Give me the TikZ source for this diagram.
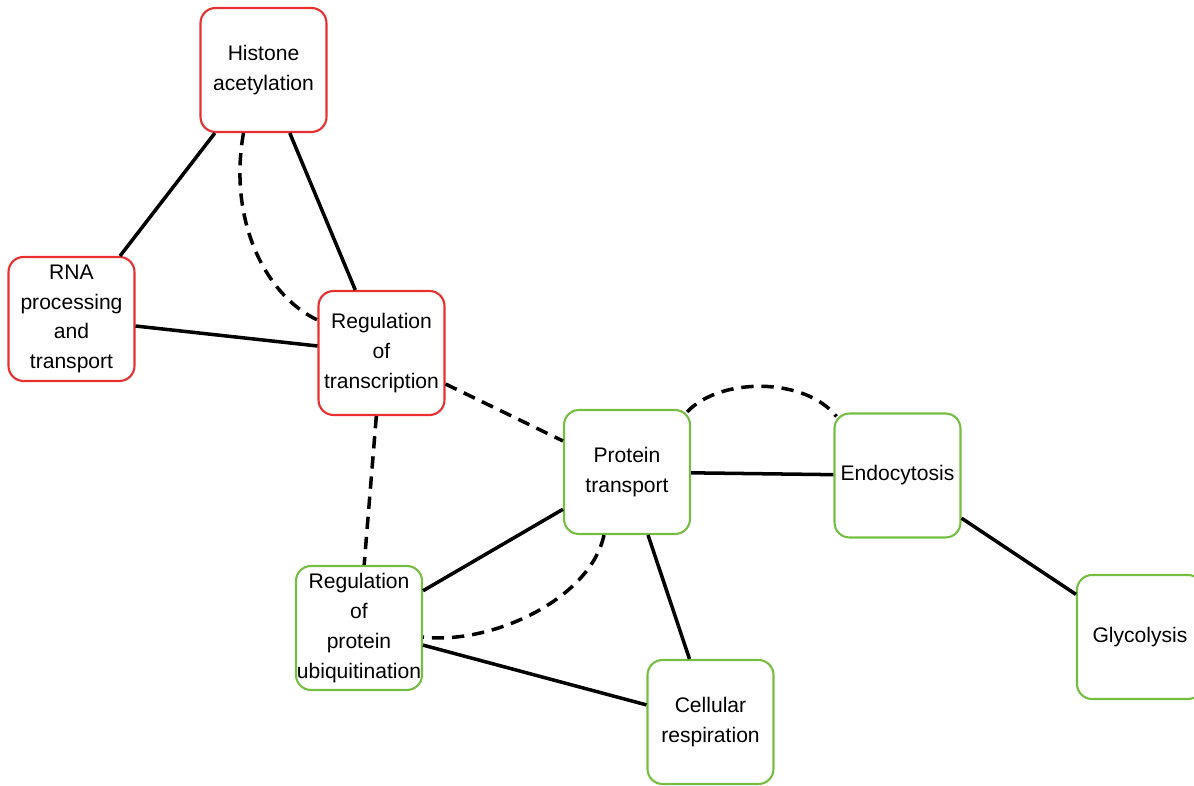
\documentclass[tikz,border=0pt]{standalone}
\usepackage{fontspec}
\setmainfont{Liberation Sans}
\usetikzlibrary{calc}
\definecolor{boxred}{RGB}{232,48,48}
\definecolor{boxgreen}{RGB}{118,190,66}

\begin{document}
\begin{tikzpicture}[x=0.02cm,y=-0.02cm,
  term/.style={draw,rounded corners=0.3cm,line width=1.2pt,minimum width=2.52cm,minimum height=2.48cm,inner sep=0pt,align=center,font=\fontsize{12}{17}\selectfont},
  redterm/.style={term,draw=boxred},
  greenterm/.style={term,draw=boxgreen},
  link/.style={line width=2pt},
  dlink/.style={link,dash pattern=on 7pt off 4.5pt}]
\useasboundingbox (0,0) rectangle (1194,786);
\node [redterm] (hist) at (263.5,70) {Histone\\acetylation};
\node [redterm] (rna) at (71.5,319) {RNA\\processing\\and\\transport};
\node [redterm] (regtr) at (381.5,353) {Regulation\\of\\transcription};
\node [greenterm] (prot) at (627,472) {Protein\\transport};
\node [greenterm] (endo) at (897.5,475.5) {Endocytosis};
\node [greenterm] (glyc) at (1140,637) {Glycolysis};
\node [greenterm] (ubiq) at (359,628) {Regulation\\of\\protein\\ubiquitination};
\node [greenterm] (resp) at (710.5,722) {Cellular\\respiration};
\draw [link] (hist) -- (rna);
\draw [link] (hist) -- (regtr);
\draw [link] (rna) -- (regtr);
\draw [dlink] ($(hist.south)+(-20,0)$) .. controls (228,220) and (265,295) .. ($(regtr.west)+(0,-33)$);
\draw [dlink] (regtr) -- (prot);
\draw [dlink] (regtr) -- (ubiq);
\draw [link] (prot) -- (endo);
\draw [dlink] ($(prot.north east)+(-4,3)$) .. controls (720,377) and (805,377) .. ($(endo.north west)+(3,4)$);
\draw [link] (prot) -- (ubiq);
\draw [dlink] ($(prot.south)+(-23,0)$) .. controls (590,600) and (490,645) .. ($(ubiq.east)+(0,9)$);
\draw [link] (prot) -- (resp);
\draw [link] (ubiq) -- (resp);
\draw [link] (endo) -- (glyc);
\end{tikzpicture}
\end{document}
